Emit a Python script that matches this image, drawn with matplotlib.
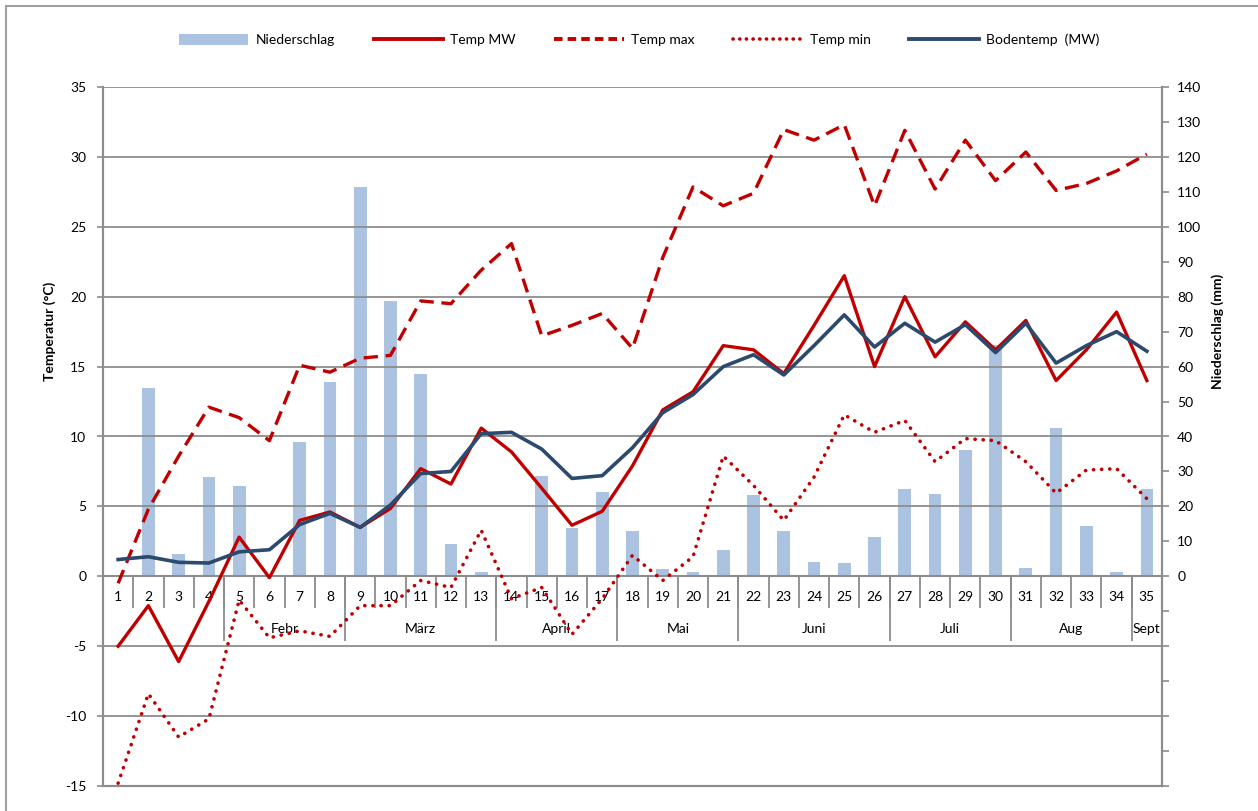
import matplotlib
matplotlib.use("Agg")
import matplotlib.pyplot as plt
from matplotlib.lines import Line2D
from matplotlib.patches import Patch

plt.rcParams["font.family"] = ["Lato", "DejaVu Sans"]
plt.rcParams["axes.unicode_minus"] = False

weeks = list(range(1, 36))
niederschlag = [0, 53.8, 6.3, 28.3, 25.8, 0, 38.3, 55.5, 111.3, 78.7,
                57.8, 9.2, 1.1, 0, 28.6, 13.7, 24.0, 12.9, 2.0, 1.1,
                7.4, 23.2, 12.9, 4.0, 3.7, 11.2, 24.9, 23.5, 36.1, 66.1,
                2.3, 42.3, 14.3, 1.1, 24.9]
temp_mw = [-5.0, -2.1, -6.1, -1.8, 2.8, -0.1, 4.0, 4.6, 3.5, 4.85,
           7.7, 6.6, 10.6, 8.9, 6.3, 3.65, 4.65, 7.9, 11.9, 13.2,
           16.5, 16.2, 14.5, 17.95, 21.5, 15.0, 20.0, 15.7, 18.2, 16.2,
           18.3, 14.0, 16.2, 18.9, 14.0]
temp_max = [-0.5, 4.8, 8.6, 12.1, 11.35, 9.7, 15.1, 14.6, 15.6, 15.8,
            19.7, 19.5, 21.9, 23.8, 17.2, 17.95, 18.8, 16.3, 22.8, 27.85,
            26.5, 27.4, 31.95, 31.2, 32.3, 26.5, 31.9, 27.7, 31.2, 28.3,
            30.35, 27.6, 28.1, 29.0, 30.2]
temp_min = [-14.8, -8.4, -11.5, -10.2, -1.7, -4.4, -3.9, -4.3, -2.1, -2.1,
            -0.3, -0.8, 3.3, -1.6, -0.8, -4.15, -1.6, 1.5, -0.3, 1.4,
            8.6, 6.5, 4.0, 7.1, 11.55, 10.3, 11.15, 8.2, 9.85, 9.7,
            8.2, 5.95, 7.6, 7.7, 5.55]
bodentemp = [1.2, 1.4, 1.0, 0.95, 1.75, 1.9, 3.7, 4.5, 3.5, 5.1,
             7.35, 7.5, 10.2, 10.3, 9.1, 7.0, 7.2, 9.2, 11.7, 13.0,
             15.0, 15.85, 14.4, 16.5, 18.7, 16.4, 18.1, 16.75, 18.0, 16.0,
             18.1, 15.25, 16.5, 17.5, 16.1]

month_names = ["", "Febr", "März", "April", "Mai", "Juni", "Juli", "Aug", "Sept"]
month_first_week = [1, 5, 9, 14, 18, 22, 27, 31, 35]

C_RED = "#c00000"
C_NAVY = "#2c4a6e"
C_BAR = "#abc3e1"
C_GRID = "#8c8c8c"

W, H = 1258, 811
fig = plt.figure(figsize=(W / 100, H / 100), dpi=100)
ax = fig.add_axes([103 / W, 1 - 786 / H, (1162 - 103) / W, (786 - 87) / H])
ax2 = ax.twinx()
ax.set_zorder(ax2.get_zorder() + 1)
ax.patch.set_visible(False)

# precipitation bars on the right axis
ax2.bar(weeks, niederschlag, width=0.42, color=C_BAR, zorder=1)
ax2.set_ylim(-60, 140)
ax2.set_yticks(range(-60, 141, 10))
ax2.set_yticklabels([str(v) if v >= 0 else "" for v in range(-60, 141, 10)])
ax2.tick_params(axis="y", direction="out", length=5, width=1.2, color=C_GRID,
                labelsize=10, pad=6)

# temperature lines on the left axis
ax.plot(weeks, temp_mw, color=C_RED, lw=2.4, zorder=4)
ax.plot(weeks, temp_max, color=C_RED, lw=2.4, ls=(0, (4.3, 2.3)), zorder=4)
ax.plot(weeks, temp_min, color=C_RED, lw=2.6, ls=(0, (0.05, 2.2)),
        dash_capstyle="round", zorder=4)
ax.plot(weeks, bodentemp, color=C_NAVY, lw=2.6, zorder=5)

ax.set_xlim(0.5, 35.5)
ax.set_ylim(-15, 35)
ax.set_yticks(range(-15, 36, 5))
ax.tick_params(axis="y", direction="out", length=4, width=1.2, color=C_GRID,
               labelsize=10, pad=8)
ax.set_xticks([])
ax.yaxis.grid(True, color=C_GRID, lw=1.3)
ax.set_axisbelow(True)

for a in (ax, ax2):
    a.spines["top"].set_visible(False)
    for s in ("left", "right", "bottom"):
        a.spines[s].set_color(C_GRID)
        a.spines[s].set_linewidth(1.5)

# category axis at y = 0: week boxes and month row
ax.axhline(0, color=C_GRID, lw=1.5, zorder=3)
ax.vlines([w + 0.5 for w in weeks[:-1]], -2.3, 0, color=C_GRID, lw=1.3, zorder=3)
ax.vlines([f - 0.5 for f in month_first_week[1:]], -4.6, 0, color=C_GRID,
          lw=1.3, zorder=3)
for w in weeks:
    ax.text(w, -1.5, str(w), ha="center", va="center", fontsize=10, zorder=3)
ends = [f - 1 for f in month_first_week[1:]] + [weeks[-1]]
for name, first, last in zip(month_names, month_first_week, ends):
    if name:
        ax.text((first + last) / 2, -3.8, name, ha="center", va="center",
                fontsize=10, zorder=3)

fig.text(50 / W, 1 - 331 / H, "Temperatur (°C)", rotation=90, ha="center",
         va="center", fontsize=10, fontweight="bold")
fig.text(1218 / W, 1 - 331 / H, "Niederschlag (mm)", rotation=90, ha="center",
         va="center", fontsize=10, fontweight="bold")

handles = [
    Patch(facecolor=C_BAR, label="Niederschlag"),
    Line2D([], [], color=C_RED, lw=2.8, label="Temp MW"),
    Line2D([], [], color=C_RED, lw=2.8, ls=(0, (2.2, 1.3)), label="Temp max"),
    Line2D([], [], color=C_RED, lw=2.6, ls=(0, (0.05, 1.8)),
           dash_capstyle="round", label="Temp min"),
    Line2D([], [], color=C_NAVY, lw=2.8, label="Bodentemp  (MW)"),
]
fig.legend(handles=handles, loc="center", bbox_to_anchor=(0.508, 1 - 40 / H),
           ncol=5, frameon=False, fontsize=10, handlelength=5,
           handleheight=0.9, columnspacing=2.8, handletextpad=0.5)

# outer chart frame (top and left edges visible)
fig.add_artist(Line2D([6 / W, 6 / W], [0, 1 - 6 / H], color="#a0a0a0",
                      lw=1.5, transform=fig.transFigure))
fig.add_artist(Line2D([6 / W, 1], [1 - 6 / H, 1 - 6 / H], color="#a0a0a0",
                      lw=1.5, transform=fig.transFigure))

fig.savefig("out.png", dpi=100)
